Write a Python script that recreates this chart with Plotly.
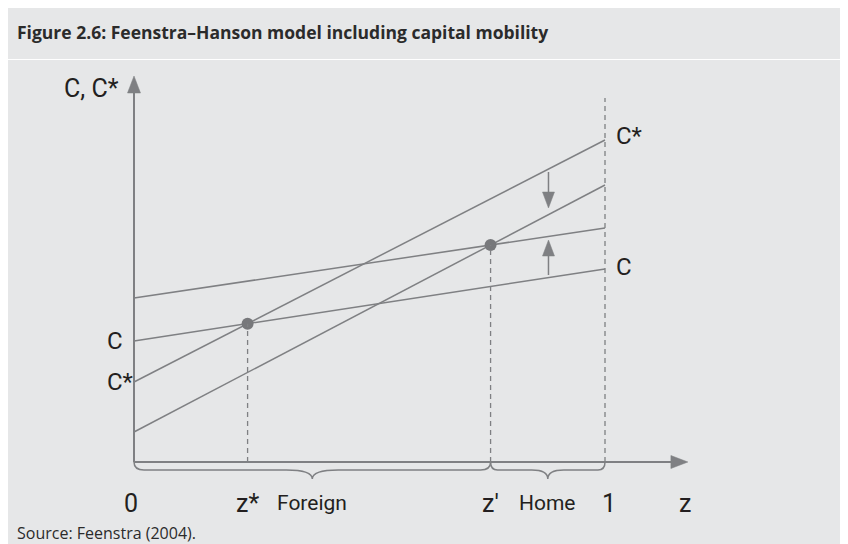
import plotly.graph_objects as go

# ---------------- data ----------------
z_ends = [0.0, 1.0]
c_orig = [1.21, 1.93]        # C (before capital flow)
cstar_orig = [0.80, 3.22]    # C* (before)
c_new = [1.64, 2.34]         # C (after, shifted up)
cstar_new = [0.30, 2.77]     # C* (after, shifted down)
shift_z = 0.88
down_arrow = [2.90, 2.54]    # C* moves down
up_arrow = [1.87, 2.22]      # C moves up
z_axis_max = 1.176
y_axis_max = 3.86
z1_top = 3.64

bottom_labels = ["0", "z*", "Foreign", "z'", "Home", "1", "z"]
title = "Figure 2.6: Feenstra\u2013Hanson model including capital mobility"
source = "Source: Feenstra (2004)."

# ---------------- helpers ----------------
W, H = 848, 544
OFF = 8  # page body margin
X0PX, Y0PX, SX, SY = 134 - OFF, 462 - OFF, 471.0, 100.0
xr = [-X0PX / SX, (W - X0PX) / SX]
yr = [(Y0PX - H) / SY, Y0PX / SY]
dx = 1 / SX   # one pixel in x units
dy = 1 / SY   # one pixel in y units

def intersect(a, b):
    sa = a[1] - a[0]
    sb = b[1] - b[0]
    z = (b[0] - a[0]) / (sa - sb)
    return z, a[0] + sa * z

zs, ys = intersect(c_orig, cstar_orig)
zp, yp = intersect(c_new, cstar_new)

GREY = "#7f8083"
TXT = "#231f20"
LBL = "Roboto, Liberation Sans, sans-serif"

fig = go.Figure()

for vals in [c_orig, cstar_orig, c_new, cstar_new]:
    fig.add_trace(go.Scatter(x=z_ends, y=vals, mode="lines",
                             line=dict(color=GREY, width=1.5), hoverinfo="skip"))

fig.add_trace(go.Scatter(x=[zs, zp], y=[ys, yp], mode="markers",
                         marker=dict(color="#77787b", size=12), hoverinfo="skip"))

shapes = []
dash = "5px,4px"
shapes.append(dict(type="line", x0=zs, x1=zs, y0=0, y1=ys, line=dict(color=GREY, width=1.3, dash=dash)))
shapes.append(dict(type="line", x0=zp, x1=zp, y0=0, y1=yp, line=dict(color=GREY, width=1.3, dash=dash)))
shapes.append(dict(type="line", x0=1, x1=1, y0=0, y1=z1_top, line=dict(color=GREY, width=1.3, dash=dash)))

shapes.append(dict(type="line", x0=0, x1=0, y0=0, y1=y_axis_max - 14 * dy, line=dict(color=GREY, width=2)))
shapes.append(dict(type="line", x0=0, x1=z_axis_max - 14 * dx, y0=0, y1=0, line=dict(color=GREY, width=2)))

def tri(xt, yt, direction, length, half):
    if direction == "up":
        pts = [(xt, yt), (xt - half * dx, yt - length * dy), (xt + half * dx, yt - length * dy)]
    elif direction == "down":
        pts = [(xt, yt), (xt - half * dx, yt + length * dy), (xt + half * dx, yt + length * dy)]
    else:
        pts = [(xt, yt), (xt - length * dx, yt + half * dy), (xt - length * dx, yt - half * dy)]
    p = "M {} {} L {} {} L {} {} Z".format(*[c for pt in pts for c in pt])
    return dict(type="path", path=p, fillcolor=GREY, line=dict(color=GREY, width=0.5))

shapes.append(tri(0, y_axis_max, "up", 17, 6.5))
shapes.append(tri(z_axis_max, 0, "right", 17, 6.5))

shapes.append(dict(type="line", x0=shift_z, x1=shift_z, y0=down_arrow[0], y1=down_arrow[1] + 14 * dy,
                   line=dict(color=GREY, width=1.5)))
shapes.append(tri(shift_z, down_arrow[1], "down", 16, 6))
shapes.append(dict(type="line", x0=shift_z, x1=shift_z, y0=up_arrow[0], y1=up_arrow[1] - 14 * dy,
                   line=dict(color=GREY, width=1.5)))
shapes.append(tri(shift_z, up_arrow[1], "up", 16, 6))

def brace(x0, x1, r, c):
    m = (x0 + x1) / 2
    y_top, y_mid, y_tip = 0, -8 * dy, -17 * dy
    p = (f"M {x0} {y_top} Q {x0} {y_mid} {x0 + r * dx} {y_mid} "
         f"L {m - c * dx} {y_mid} Q {m} {y_mid} {m} {y_tip} "
         f"Q {m} {y_mid} {m + c * dx} {y_mid} "
         f"L {x1 - r * dx} {y_mid} Q {x1} {y_mid} {x1} {y_top}")
    return dict(type="path", path=p, line=dict(color=GREY, width=1.5))

shapes.append(brace(0, zp, 10, 26))
shapes.append(brace(zp, 1, 7, 16))

# thin white rule under the title band
yl = 1 - (59.5 - OFF) / H
shapes.append(dict(type="line", xref="paper", yref="paper", x0=0, x1=1, y0=yl, y1=yl,
                   line=dict(color="white", width=1), layer="below"))

for s in shapes:
    s.setdefault("xref", "x")
    s.setdefault("yref", "y")
    s.setdefault("layer", "above")

ann = []
def label(text, x, y, size, xanchor="center", xshift=0, yshift=0, family=LBL):
    ann.append(dict(text=text, x=x, y=y, xref="x", yref="y", showarrow=False,
                    xanchor=xanchor, yanchor="middle", xshift=xshift, yshift=yshift,
                    font=dict(family=family, size=size, color=TXT)))

yb = -41 * dy
label(bottom_labels[0], 0, yb, 25, xshift=-3)
label(bottom_labels[1], zs, yb, 25)
label(bottom_labels[2], zp / 2, yb, 21)
label(bottom_labels[3], zp, yb, 25)
label(bottom_labels[4], (zp + 1) / 2, yb, 21)
label(bottom_labels[5], 1, yb, 25, xshift=4)
label(bottom_labels[6], z_axis_max, yb, 25, xshift=-3)

label("C", 0, c_orig[0], 24, xanchor="left", xshift=-29)
label("C*", 0, cstar_orig[0], 24, xanchor="left", xshift=-29)
label("C*", 1, cstar_orig[1], 24, xanchor="left", xshift=9, yshift=4)
label("C", 1, c_orig[1], 24, xanchor="left", xshift=9, yshift=2)
label("C, C*", 0, y_axis_max, 25, xanchor="right", xshift=-13, yshift=-12)

ann.append(dict(text="<b>" + title + "</b>", xref="paper", yref="paper",
                x=(15 - OFF) / W, y=1 - (32 - OFF) / H, xanchor="left", yanchor="middle",
                showarrow=False, font=dict(family="Open Sans, sans-serif", size=17.5, color="#2b2b2b")))
ann.append(dict(text=source, xref="paper", yref="paper", x=(15 - OFF) / W, y=1 - (533 - OFF) / H,
                xanchor="left", yanchor="middle", showarrow=False,
                font=dict(family="Open Sans, sans-serif", size=16, color="#2b2b2b")))

fig.update_layout(
    width=W, height=H, autosize=False,
    margin=dict(l=0, r=0, t=0, b=0),
    paper_bgcolor="#e6e7e8", plot_bgcolor="#e6e7e8",
    showlegend=False,
    xaxis=dict(range=xr, visible=False, fixedrange=True),
    yaxis=dict(range=yr, visible=False, fixedrange=True),
    shapes=shapes, annotations=ann,
)

fig.write_html("out.html")
